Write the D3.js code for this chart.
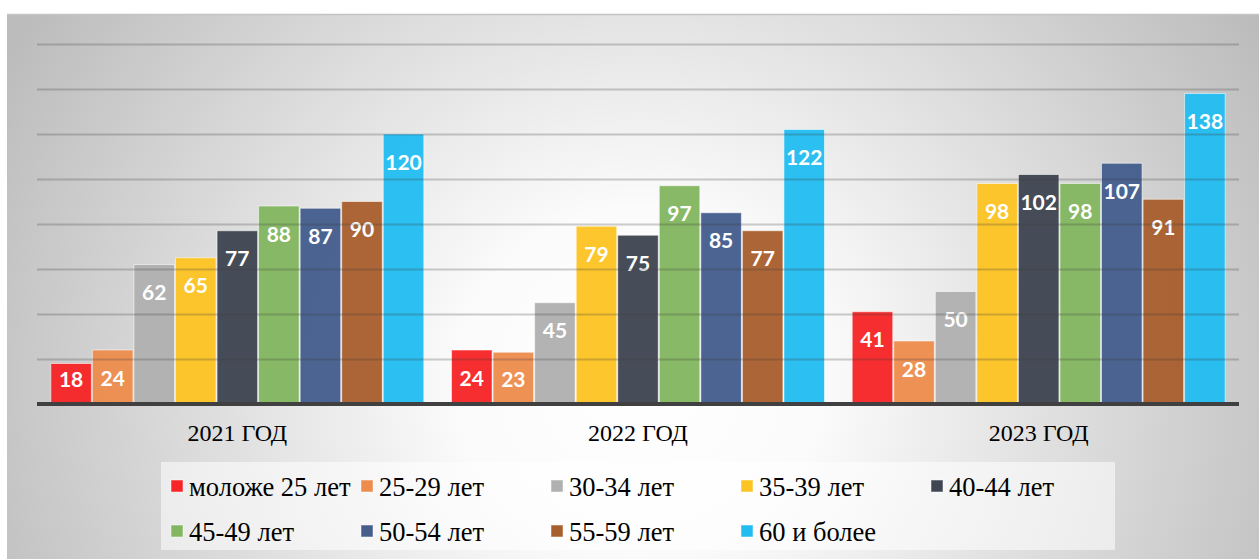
<!DOCTYPE html>
<html>
<head>
<meta charset="utf-8">
<script src="https://cdn.jsdelivr.net/npm/d3@7"></script>
<style>
html,body{margin:0;padding:0;background:#fff;}
svg{display:block;}
</style>
</head>
<body>
<svg id="chart" width="1259" height="559"></svg>
<script>
const years = ["2021 ГОД", "2022 ГОД", "2023 ГОД"];
const ageGroups = ["моложе 25 лет", "25-29 лет", "30-34 лет", "35-39 лет", "40-44 лет", "45-49 лет", "50-54 лет", "55-59 лет", "60 и более"];
const values2021 = [18, 24, 62, 65, 77, 88, 87, 90, 120];
const values2022 = [24, 23, 45, 79, 75, 97, 85, 77, 122];
const values2023 = [41, 28, 50, 98, 102, 98, 107, 91, 138];
const gridTicks = [20, 40, 60, 80, 100, 120, 140, 160];
const colors = ["#f72527", "#ec8d4d", "#b0b0b0", "#fcc423", "#404651", "#83b660", "#455e8c", "#a85f2e", "#23bcf0"];

const seriesByYear = [values2021, values2022, values2023];
const data = years.map((y, i) => ({year: y, values: ageGroups.map((g, j) => ({group: g, j, value: seriesByYear[i][j]}))}));

const svg = d3.select("#chart");
const W = 1259, H = 559;
const plot = {left: 37, right: 1239, top: 44, bottom: 404};

// background gradient
const defs = svg.append("defs");
const rg = defs.append("radialGradient").attr("id", "bg")
  .attr("gradientUnits", "userSpaceOnUse")
  .attr("cx", 640).attr("cy", 380).attr("r", 720)
  .attr("gradientTransform", "translate(640,380) scale(1,0.95) translate(-640,-380)");
rg.append("stop").attr("offset", "0").attr("stop-color", "#ffffff");
rg.append("stop").attr("offset", "0.25").attr("stop-color", "#fbfbfb");
rg.append("stop").attr("offset", "1").attr("stop-color", "#bcbcbc");

svg.append("rect").attr("x", 0).attr("y", 0).attr("width", W).attr("height", H).attr("fill", "#ffffff");
svg.append("rect").attr("x", 7).attr("y", 14).attr("width", W - 7).attr("height", H - 14).attr("fill", "url(#bg)");
svg.append("line").attr("x1", 7).attr("x2", W).attr("y1", 14.5).attr("y2", 14.5).attr("stroke", "#c4c4c4").attr("stroke-width", 1.5);

const x0 = d3.scaleBand().domain(years).range([plot.left, plot.right]).paddingInner(0.0667).paddingOuter(0.0333);
const x1 = d3.scaleBand().domain(ageGroups).range([0, x0.bandwidth()]).padding(0);
const y = d3.scaleLinear().domain([0, 160]).range([plot.bottom, plot.top]);

// bars
const g = svg.append("g");
const groups = g.selectAll("g.year").data(data).join("g").attr("class", "year")
  .attr("transform", d => `translate(${x0(d.year)},0)`);
groups.selectAll("rect").data(d => d.values).join("rect")
  .attr("x", d => x1(d.group) + 0.5)
  .attr("y", d => y(d.value))
  .attr("width", x1.bandwidth() - 1)
  .attr("height", d => y(0) - y(d.value))
  .attr("fill", d => colors[d.j])
  .attr("fill-opacity", 0.96)
  .attr("stroke", "rgba(255,255,255,0.55)")
  .attr("stroke-width", 1);

// gridlines (drawn over bars, faint)
const gridAxis = d3.axisLeft(y).tickValues(gridTicks).tickSize(-(plot.right - plot.left)).tickFormat("");
const grid = svg.append("g").attr("transform", `translate(${plot.left},0)`).call(gridAxis);
grid.select(".domain").remove();
grid.selectAll(".tick line").attr("stroke", "rgba(60,60,60,0.25)").attr("stroke-width", 2);

// baseline + category axis
const xAxis = d3.axisBottom(x0).tickSize(0).tickPadding(0);
const ax = svg.append("g").attr("transform", `translate(0,${plot.bottom})`).call(xAxis);
ax.select(".domain").remove();
ax.selectAll(".tick text")
  .attr("y", 37).attr("dy", null)
  .attr("font-family", "'Liberation Serif', 'Times New Roman', serif")
  .attr("font-size", 24).attr("fill", "#000");
svg.append("line").attr("x1", plot.left).attr("x2", plot.right).attr("y1", plot.bottom).attr("y2", plot.bottom)
  .attr("stroke", "#404040").attr("stroke-width", 4);

// value labels
groups.selectAll("text.val").data(d => d.values).join("text").attr("class", "val")
  .attr("x", d => x1(d.group) + x1.bandwidth() / 2)
  .attr("y", d => Math.min(y(d.value) + 27, y(0) - 26))
  .attr("text-anchor", "middle")
  .attr("dominant-baseline", "central")
  .attr("font-family", "Lato, 'Open Sans', sans-serif")
  .attr("font-weight", "bold")
  .attr("font-size", 21)
  .attr("fill", "#ffffff")
  .text(d => d.value);

// legend
const legend = svg.append("g");
legend.append("rect").attr("x", 161).attr("y", 462).attr("width", 954).attr("height", 88)
  .attr("fill", "rgba(255,255,255,0.55)");
const perRow = 5;
const items = legend.selectAll("g.item").data(ageGroups).join("g").attr("class", "item")
  .attr("transform", (d, i) => `translate(${171 + (i % perRow) * 190},${486 + Math.floor(i / perRow) * 45})`);
items.append("rect").attr("x", 0).attr("y", -6).attr("width", 12).attr("height", 12)
  .attr("fill", (d, i) => colors[i]).attr("stroke", "rgba(255,255,255,0.5)").attr("stroke-width", 1);
items.append("text").attr("x", 18).attr("y", 10)
  .attr("font-family", "'Liberation Serif', 'Times New Roman', serif")
  .attr("font-size", 26.5).attr("fill", "#000")
  .text(d => d);
</script>
</body>
</html>
